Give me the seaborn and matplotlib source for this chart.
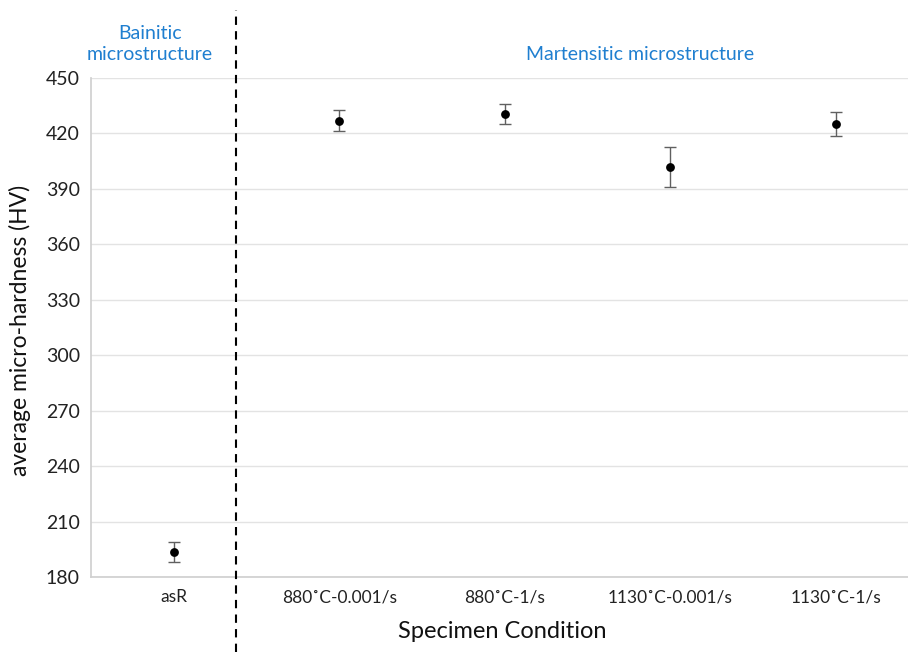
import matplotlib
matplotlib.use("Agg")
import matplotlib.pyplot as plt
import seaborn as sns
import pandas as pd
from matplotlib.lines import Line2D

categories = ["asR", "880˚C-0.001/s", "880˚C-1/s", "1130˚C-0.001/s", "1130˚C-1/s"]
hardness = [193.5, 427.0, 430.5, 402.0, 425.0]
errors = [5.3, 5.5, 5.5, 10.8, 6.5]
yticks = [180, 210, 240, 270, 300, 330, 360, 390, 420, 450]

sns.set_theme(style="white")
plt.rcParams["font.family"] = ["Lato", "DejaVu Sans"]

df = pd.DataFrame({"cond": categories, "hv": hardness, "err": errors})
df["pos"] = range(len(df))

fig = plt.figure(figsize=(9.08, 6.52), dpi=100)
W, H = 908, 652
left, right, top, bottom = 91, 908, 78, 577
ax = fig.add_axes([left / W, 1 - bottom / H, (right - left) / W, (bottom - top) / H])

ax.errorbar(df["pos"], df["hv"], yerr=df["err"], fmt="none", ecolor="#606060",
            elinewidth=1.0, capsize=4, capthick=1.0, zorder=2)
sns.scatterplot(data=df, x="pos", y="hv", color="black", s=40, edgecolor="black",
                linewidth=0, ax=ax, zorder=3, legend=False)

ax.set_xlim(-0.5, (right - left) / 165.5 - 0.5)
ax.set_ylim(180, 450)
ax.set_yticks(yticks)
ax.set_yticklabels([str(t) for t in yticks], fontsize=14, color="#222222")
ax.set_xticks(df["pos"])
ax.set_xticklabels(categories, fontsize=12.5, color="#222222")
ax.tick_params(axis="both", length=0, pad=8)
ax.tick_params(axis="x", pad=9)
ax.grid(axis="y", color="#e3e3e3", linewidth=1)
ax.set_axisbelow(True)
for s in ["top", "right"]:
    ax.spines[s].set_visible(False)
ax.spines["left"].set_color("#d0d0d0")
ax.spines["bottom"].set_color("#d0d0d0")
ax.set_xlabel("")
ax.set_ylabel("")

fig.text(20 / W, 1 - 330 / H, "average micro-hardness (HV)", rotation=90, fontsize=16.5,
         ha="center", va="center", color="#111111")
fig.text(502 / W, 1 - 632 / H, "Specimen Condition", fontsize=17, ha="center", va="center",
         color="#111111")
fig.text(150 / W, 1 - 44 / H, "Bainitic\nmicrostructure", fontsize=14, ha="center",
         va="center", color="#1f7fd0", linespacing=1.3)
fig.text(640 / W, 1 - 55 / H, "Martensitic microstructure", fontsize=14, ha="center",
         va="center", color="#1f7fd0")

fig.add_artist(Line2D([236 / W, 236 / W], [0, 1 - 10 / H], transform=fig.transFigure,
                      color="black", linestyle=(0, (4, 3)), linewidth=1.5))

fig.savefig("out.png", dpi=100)
